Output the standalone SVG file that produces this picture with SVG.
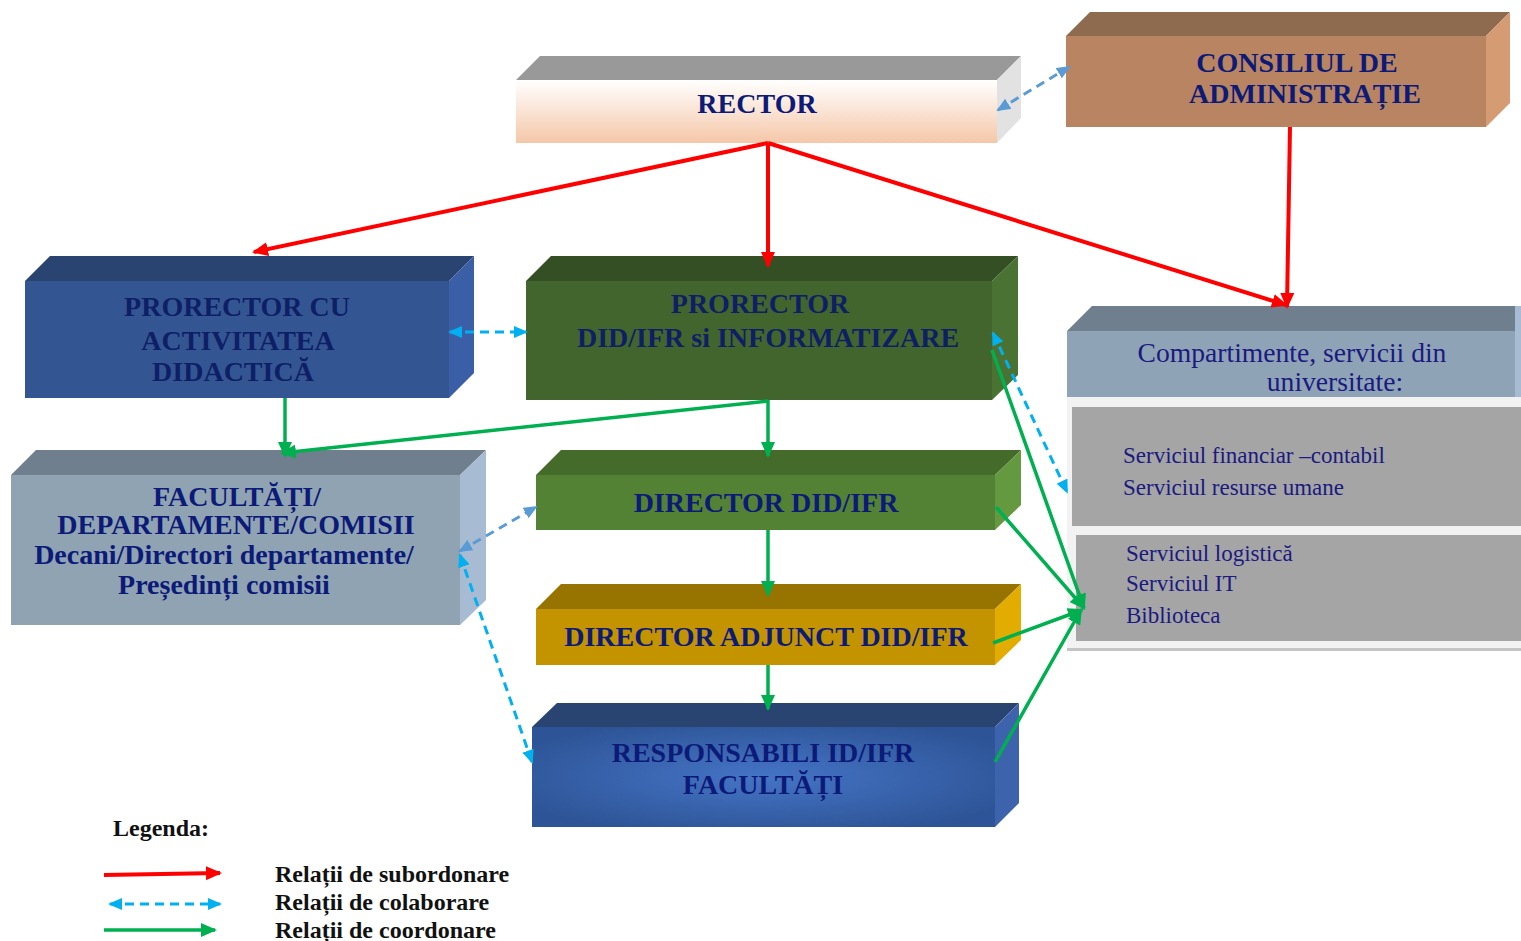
<svg xmlns="http://www.w3.org/2000/svg" width="1521" height="941" viewBox="0 0 1521 941">
<defs>
<linearGradient id="gRector" x1="0" y1="0" x2="0" y2="1">
<stop offset="0" stop-color="#ffffff"/><stop offset="1" stop-color="#f5c7a8"/>
</linearGradient>
<radialGradient id="gResp" cx="0.5" cy="0.5" r="0.6">
<stop offset="0" stop-color="#4574c6"/><stop offset="1" stop-color="#2d5496"/>
</radialGradient>
<marker id="aRed" markerUnits="userSpaceOnUse" markerWidth="16" markerHeight="14" refX="14" refY="7" orient="auto">
<path d="M0,0 L16,7 L0,14 Z" fill="#ff0000"/>
</marker>
<marker id="aGreen" markerUnits="userSpaceOnUse" markerWidth="16" markerHeight="14" refX="14" refY="7" orient="auto">
<path d="M0,0 L16,7 L0,14 Z" fill="#00b050"/>
</marker>
<marker id="aBlue" markerUnits="userSpaceOnUse" markerWidth="14" markerHeight="12" refX="12" refY="6" orient="auto-start-reverse">
<path d="M0,0 L14,6 L0,12 Z" fill="#00b0f0"/>
</marker>
<marker id="aBlue2" markerUnits="userSpaceOnUse" markerWidth="14" markerHeight="12" refX="12" refY="6" orient="auto-start-reverse">
<path d="M0,0 L14,6 L0,12 Z" fill="#5b9bd5"/>
</marker>
</defs>
<style>
.t{font-family:"Liberation Serif","Times New Roman",serif;font-weight:bold;font-size:28px;fill:#0c1a78;text-anchor:middle}
.d{fill:#0f1f66}
.r{font-family:"Liberation Serif","Times New Roman",serif;font-size:27.6px;fill:#1a1a80;text-anchor:middle}
.s{font-family:"Liberation Serif","Times New Roman",serif;font-size:23px;fill:#1a1a80}
.l{font-family:"Liberation Serif","Times New Roman",serif;font-weight:bold;font-size:24px;fill:#111}
.red{stroke:#ff0000;stroke-width:4;fill:none}
.grn{stroke:#00b050;stroke-width:3.5;fill:none}
.blu{stroke:#00b0f0;stroke-width:3;fill:none;stroke-dasharray:9 6}
.blu2{stroke:#5b9bd5;stroke-width:3;fill:none;stroke-dasharray:9 6}
</style>

<g id="rector">
<polygon points="516,80 540,56 1021,56 997,80" fill="#999999"/>
<polygon points="997,80 1021,56 1021,118 997,143" fill="#e2e2e2"/>
<rect x="516" y="80" width="481" height="63" fill="url(#gRector)"/>
<text class="t" x="757" y="113">RECTOR</text>
</g>

<g id="consiliul">
<polygon points="1066,36 1090,12 1510,12 1486,36" fill="#8e6a4f"/>
<polygon points="1486,36 1510,12 1510,103 1486,127" fill="#d59b72"/>
<rect x="1066" y="36" width="420" height="91" fill="#b98461"/>
<text class="t" x="1297" y="72">CONSILIUL DE</text>
<text class="t" x="1305" y="103">ADMINISTRAȚIE</text>
</g>

<g id="prorector-didactic">
<polygon points="25,281 50,256 474,256 449,281" fill="#2a4472"/>
<polygon points="449,281 474,256 474,373 449,398" fill="#3b5fa6"/>
<rect x="25" y="281" width="424" height="117" fill="#335693"/>
<text class="t d" x="237" y="316">PRORECTOR CU</text>
<text class="t d" x="238" y="350">ACTIVITATEA</text>
<text class="t d" x="233" y="381">DIDACTICĂ</text>
</g>

<g id="prorector-did">
<polygon points="526,281 551,256 1018,256 992,281" fill="#344f24"/>
<polygon points="992,281 1018,256 1018,375 992,400" fill="#4a7232"/>
<rect x="526" y="281" width="466" height="119" fill="#42652d"/>
<text class="t d" x="760" y="313">PRORECTOR</text>
<text class="t d" x="768" y="347">DID/IFR si INFORMATIZARE</text>
</g>

<g id="facultati">
<polygon points="11,475 36,450 486,450 460,475" fill="#6f7f8d"/>
<polygon points="460,475 486,450 486,600 460,625" fill="#a7bbd2"/>
<rect x="11" y="475" width="449" height="150" fill="#8fa3b3"/>
<text class="t" x="237" y="506">FACULTĂȚI/</text>
<text class="t" x="236" y="534">DEPARTAMENTE/COMISII</text>
<text class="t" x="224" y="564">Decani/Directori departamente/</text>
<text class="t" x="224" y="594">Președinți comisii</text>
</g>

<g id="director">
<polygon points="536,475 561,450 1021,450 995,475" fill="#456b2b"/>
<polygon points="995,475 1021,450 1021,505 995,530" fill="#65993f"/>
<rect x="536" y="475" width="459" height="55" fill="#548235"/>
<text class="t" x="766" y="512">DIRECTOR DID/IFR</text>
</g>

<g id="director-adjunct">
<polygon points="536,609 561,584 1021,584 995,609" fill="#977300"/>
<polygon points="995,609 1021,584 1021,640 995,665" fill="#e3ad00"/>
<rect x="536" y="609" width="459" height="56" fill="#c49400"/>
<text class="t" x="766" y="646">DIRECTOR ADJUNCT DID/IFR</text>
</g>

<g id="responsabili">
<polygon points="532,727 557,703 1019,703 995,727" fill="#2a4472"/>
<polygon points="995,727 1019,703 1019,803 995,827" fill="#3c63ac"/>
<rect x="532" y="727" width="463" height="100" fill="url(#gResp)"/>
<text class="t" x="763" y="762">RESPONSABILI ID/IFR</text>
<text class="t" x="763" y="794">FACULTĂȚI</text>
</g>

<g id="compartimente">
<polygon points="1067,331 1092,306 1521,306 1521,331" fill="#6f7f8d"/>
<rect x="1067" y="331" width="448" height="66" fill="#8fa3b6"/>
<rect x="1515" y="306" width="6" height="91" fill="#a7bbd2"/>
<rect x="1067" y="397" width="454" height="252" fill="#f2f2f2"/>
<rect x="1067" y="648" width="454" height="3" fill="#c4c4c4"/>
<rect x="1072" y="407" width="449" height="119" fill="#a5a5a5"/>
<rect x="1076" y="535" width="445" height="106" fill="#a5a5a5"/>
<text class="r" x="1292" y="362">Compartimente, servicii din</text>
<text class="r" x="1335" y="391">universitate:</text>
<text class="s" x="1123" y="463">Serviciul financiar –contabil</text>
<text class="s" x="1123" y="495">Serviciul resurse umane</text>
<text class="s" x="1126" y="561">Serviciul logistică</text>
<text class="s" x="1126" y="591">Serviciul IT</text>
<text class="s" x="1126" y="623">Biblioteca</text>
</g>

<g id="connectors">
<line class="red" x1="768" y1="143" x2="254" y2="252" marker-end="url(#aRed)"/>
<line class="red" x1="768" y1="143" x2="768" y2="266" marker-end="url(#aRed)"/>
<line class="red" x1="768" y1="143" x2="1286" y2="305" marker-end="url(#aRed)"/>
<line class="red" x1="1290" y1="127" x2="1287" y2="307" marker-end="url(#aRed)"/>

<line class="grn" x1="285" y1="398" x2="285" y2="456" marker-end="url(#aGreen)"/>
<line class="grn" x1="768" y1="401" x2="282" y2="453" marker-end="url(#aGreen)"/>
<line class="grn" x1="768" y1="400" x2="768" y2="456" marker-end="url(#aGreen)"/>
<line class="grn" x1="768" y1="530" x2="768" y2="595" marker-end="url(#aGreen)"/>
<line class="grn" x1="768" y1="665" x2="768" y2="709" marker-end="url(#aGreen)"/>
<line class="grn" x1="992" y1="350" x2="1084" y2="608" marker-end="url(#aGreen)"/>
<line class="grn" x1="996" y1="507" x2="1084" y2="608" marker-end="url(#aGreen)"/>
<line class="grn" x1="993" y1="643" x2="1082" y2="610" marker-end="url(#aGreen)"/>
<line class="grn" x1="995" y1="762" x2="1081" y2="610" marker-end="url(#aGreen)"/>

<line class="blu2" x1="998" y1="110" x2="1069" y2="67" marker-start="url(#aBlue2)" marker-end="url(#aBlue2)"/>
<line class="blu" x1="450" y1="332" x2="526" y2="332" marker-start="url(#aBlue)" marker-end="url(#aBlue)"/>
<line class="blu" x1="993" y1="333" x2="1067" y2="492" marker-start="url(#aBlue)" marker-end="url(#aBlue)"/>
<line class="blu2" x1="460" y1="551" x2="536" y2="507" marker-start="url(#aBlue2)" marker-end="url(#aBlue2)"/>
<line class="blu" x1="460" y1="555" x2="532" y2="762" marker-start="url(#aBlue)" marker-end="url(#aBlue)"/>
</g>

<g id="legend">
<text class="l" x="113" y="836">Legenda:</text>
<line class="red" x1="104" y1="875" x2="220" y2="873" marker-end="url(#aRed)"/>
<line class="blu" x1="110" y1="904" x2="220" y2="904" marker-start="url(#aBlue)" marker-end="url(#aBlue)"/>
<line class="grn" x1="104" y1="930" x2="215" y2="930" stroke-width="4" marker-end="url(#aGreen)"/>
<text class="l" x="275" y="882">Relații de subordonare</text>
<text class="l" x="275" y="910">Relații de colaborare</text>
<text class="l" x="275" y="938">Relații de coordonare</text>
</g>
</svg>
